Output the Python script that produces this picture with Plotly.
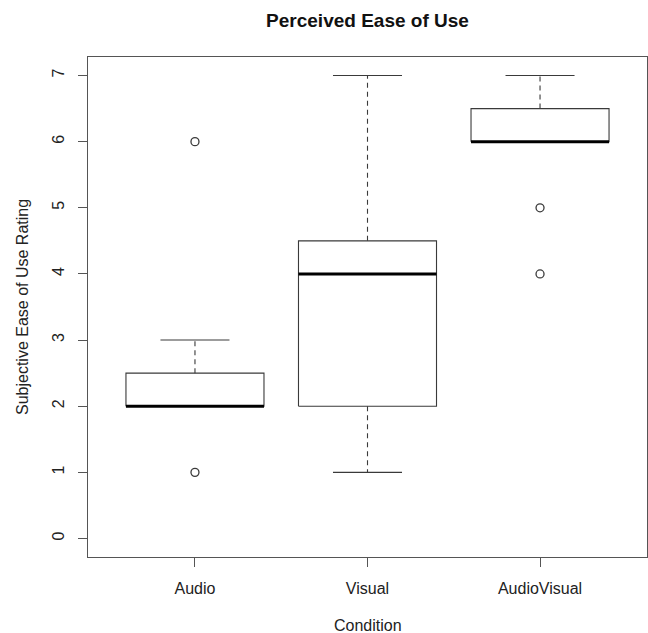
import plotly.graph_objects as go

# ---- data ----
categories = ["Audio", "Visual", "AudioVisual"]
q1_values = [2.0, 2.0, 6.0]
median_values = [2.0, 4.0, 6.0]
q3_values = [2.5, 4.5, 6.5]
lower_whisker = [2.0, 1.0, 6.0]
upper_whisker = [3.0, 7.0, 7.0]
outlier_category = ["Audio", "Audio", "AudioVisual", "AudioVisual"]
outlier_values = [1.0, 6.0, 5.0, 4.0]
y_tick_values = [0, 1, 2, 3, 4, 5, 6, 7]

# ---- styling ----
FONT = "Liberation Sans, Arial, Helvetica, sans-serif"
LINE = "#3a3a3a"
FRAME = "#555555"
BOX_HALF = 0.4
CAP_HALF = 0.2

fig = go.Figure()

for i, cat in enumerate(categories):
    x = i + 1
    q1, med, q3 = q1_values[i], median_values[i], q3_values[i]
    lo, hi = lower_whisker[i], upper_whisker[i]
    # whiskers (dashed)
    fig.add_trace(go.Scatter(x=[x, x, None, x, x], y=[q3, hi, None, q1, lo],
                             mode="lines", line=dict(color=LINE, width=1.1, dash="5px,4px"),
                             hoverinfo="skip", showlegend=False))
    # caps
    fig.add_trace(go.Scatter(x=[x - CAP_HALF, x + CAP_HALF, None, x - CAP_HALF, x + CAP_HALF],
                             y=[hi, hi, None, lo, lo],
                             mode="lines", line=dict(color=LINE, width=1.1),
                             hoverinfo="skip", showlegend=False))
    # box
    fig.add_trace(go.Scatter(x=[x - BOX_HALF, x + BOX_HALF, x + BOX_HALF, x - BOX_HALF, x - BOX_HALF],
                             y=[q1, q1, q3, q3, q1],
                             mode="lines", line=dict(color=LINE, width=1.1),
                             hoverinfo="skip", showlegend=False))
    # median
    fig.add_trace(go.Scatter(x=[x - BOX_HALF, x + BOX_HALF], y=[med, med],
                             mode="lines", line=dict(color="#000000", width=3),
                             hoverinfo="skip", showlegend=False))

# outliers
fig.add_trace(go.Scatter(x=[categories.index(c) + 1 for c in outlier_category], y=outlier_values,
                         mode="markers",
                         marker=dict(symbol="circle-open", size=8, color=LINE, line=dict(width=1.3)),
                         hoverinfo="skip", showlegend=False))

axis_common = dict(showgrid=False, zeroline=False, showline=True, mirror=True,
                   linecolor=FRAME, linewidth=1.2, ticks="outside", ticklen=9,
                   tickcolor=FRAME, tickwidth=1.2,
                   tickfont=dict(family=FONT, size=16, color="#222222"))

fig.update_layout(
    width=648, height=633,
    margin=dict(l=88, r=1, t=57, b=76),
    paper_bgcolor="white", plot_bgcolor="white",
    xaxis=dict(range=[0.38, 3.62], tickvals=[1, 2, 3], ticktext=categories,
               ticklabelstandoff=8, **axis_common),
    yaxis=dict(range=[-0.28, 7.28], tickvals=y_tick_values, tickangle=-90,
               ticklabelstandoff=8, **axis_common),
    title=dict(text="<b>Perceived Ease of Use</b>", x=0.5, xref="paper", xanchor="center",
               y=1 - 20 / 633, yref="container", yanchor="middle",
               font=dict(family=FONT, size=19, color="#111111")),
    annotations=[
        dict(text="Condition", xref="paper", yref="paper", x=0.5, y=-(625 - 557) / 500,
             xanchor="center", yanchor="middle", showarrow=False,
             font=dict(family=FONT, size=16, color="#222222")),
        dict(text="Subjective Ease of Use Rating", xref="paper", yref="paper",
             x=(22 - 88) / 559, y=0.5, textangle=-90, xanchor="center", yanchor="middle",
             showarrow=False, font=dict(family=FONT, size=16, color="#222222")),
    ],
)

fig.write_html("out.html")
